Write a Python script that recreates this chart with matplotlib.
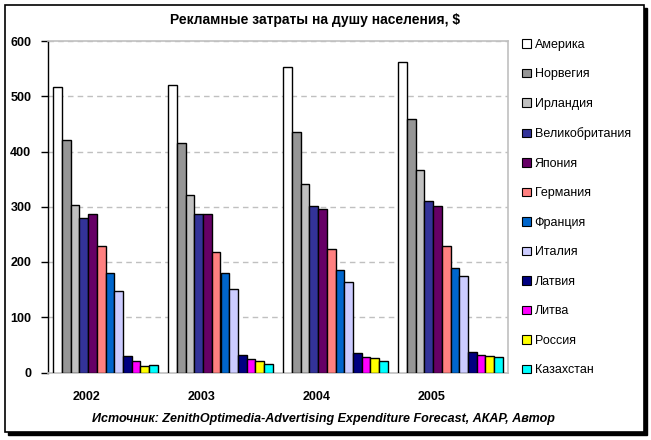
import matplotlib
matplotlib.use("Agg")
import matplotlib.pyplot as plt
import matplotlib.patches as patches
import numpy as np

plt.rcParams["font.family"] = ["Liberation Sans", "DejaVu Sans"]

years = ["2002", "2003", "2004", "2005"]
countries = ["Америка", "Норвегия", "Ирландия", "Великобритания", "Япония", "Германия",
             "Франция", "Италия", "Латвия", "Литва", "Россия", "Казахстан"]
colors = ["#FFFFFF", "#969696", "#C0C0C0", "#333399", "#660066", "#FF8080",
          "#0066CC", "#CCCCFF", "#000080", "#FF00FF", "#FFFF00", "#00FFFF"]

# values per country, one number per year
america = [516, 520, 553, 562]
norway = [421, 415, 435, 458]
ireland = [303, 322, 342, 367]
uk = [280, 286, 301, 311]
japan = [286, 286, 296, 302]
germany = [229, 218, 224, 229]
france = [180, 180, 186, 189]
italy = [147, 151, 164, 175]
latvia = [29, 31, 35, 37]
lithuania = [21, 24, 28, 32]
russia = [12, 20, 26, 30]
kazakhstan = [13, 15, 20, 28]
series = [america, norway, ireland, uk, japan, germany, france, italy,
          latvia, lithuania, russia, kazakhstan]

W, H = 651, 440
fig = plt.figure(figsize=(W / 100, H / 100), dpi=100)

# frame with shadow
shadow = patches.Rectangle((8 / W, 1 - 435 / H), 639 / W, 427 / H, transform=fig.transFigure,
                           facecolor="black", edgecolor="black", zorder=-2)
frame = patches.Rectangle((5 / W, 1 - 432 / H), 639 / W, 427 / H, transform=fig.transFigure,
                          facecolor="white", edgecolor="black", linewidth=1.2, zorder=-1)
fig.patches.extend([shadow, frame])

ax = fig.add_axes([48 / W, 1 - 372.5 / H, (508 - 48) / W, (372.5 - 41) / H])
ax.set_facecolor("none")
ax.set_zorder(2)

n = len(series)
bw = 0.0756
x = np.arange(len(years))
for i, (vals, col, name) in enumerate(zip(series, colors, countries)):
    ax.bar(x + (i - (n - 1) / 2) * bw, vals, bw, color=col, edgecolor="black",
           linewidth=1.0, label=name, zorder=3)

ax.set_xlim(-0.5, 3.5)
ax.set_ylim(0, 600)
ax.set_yticks(range(0, 601, 100))
ax.tick_params(axis="y", length=5, width=1, labelsize=9, pad=7)
for lab in ax.get_yticklabels():
    lab.set_fontweight("bold")
ax.set_xticks(x - 0.165)
ax.set_xticklabels(years, fontsize=9, fontweight="bold")
ax.tick_params(axis="x", length=0, pad=13)

ax.yaxis.grid(True, color="#C0C0C0", linestyle=(0, (4, 3)), linewidth=1, zorder=0)
for s in ["top", "right", "bottom"]:
    ax.spines[s].set_color("#C0C0C0")
    ax.spines[s].set_linewidth(1.2)
ax.spines["left"].set_color("black")
ax.spines["left"].set_linewidth(1)

fig.text(315 / W, 1 - 20 / H, "Рекламные затраты на душу населения, $", ha="center",
         va="center", fontsize=10, fontweight="bold")

leg = fig.legend(loc="upper left", bbox_to_anchor=(517 / W, 1 - 34 / H), frameon=False,
                 fontsize=9, handlelength=0.7, handleheight=0.7, handletextpad=0.3,
                 labelspacing=1.4, borderaxespad=0)
leg.set_zorder(3)
for h in leg.legend_handles:
    h.set_linewidth(0.8)

fig.text(323 / W, 1 - 419 / H,
         "Источник: ZenithOptimedia-Advertising Expenditure Forecast, АКАР, Автор",
         ha="center", va="center", fontsize=9, style="italic", fontweight="bold")

fig.savefig("out.png", dpi=100, facecolor="white")
